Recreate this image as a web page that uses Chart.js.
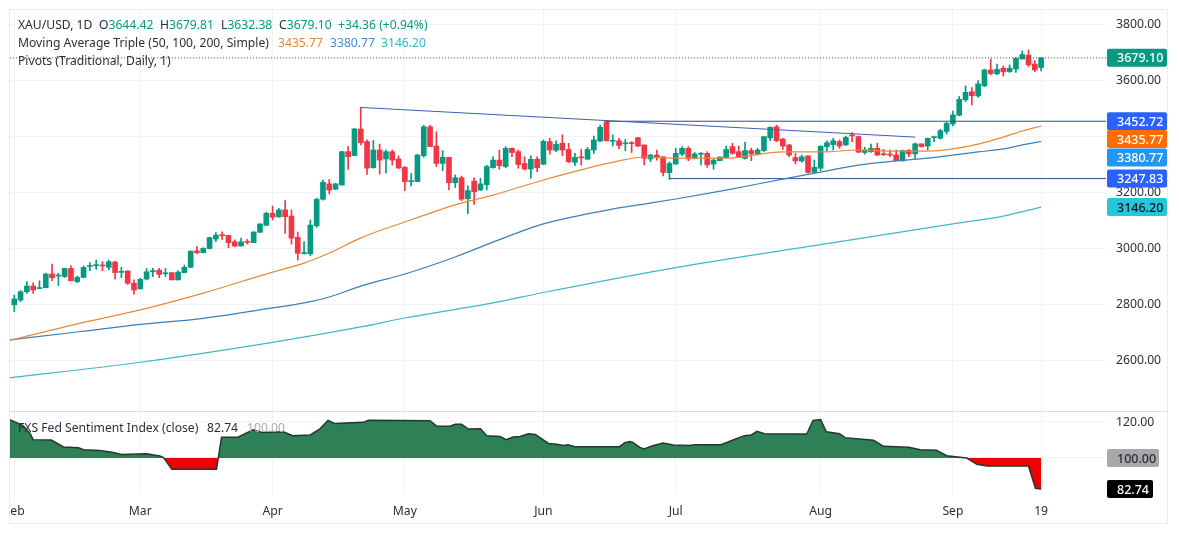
<!DOCTYPE html>
<html>
<head>
<meta charset="utf-8">
<title>XAU/USD</title>
<script src="https://cdn.jsdelivr.net/npm/chart.js@4"></script>
<style>
    html, body { margin: 0; padding: 0; background: #fff; overflow: hidden; }
    body { width: 1179px; height: 537px; position: relative; font-family: "Noto Sans", sans-serif; }
    canvas { position: absolute; display: block; }
    #frame { position: absolute; left: 9px; top: 9px; width: 1159px; height: 515px; border: 1px solid #ececec; box-sizing: border-box; }
    #sep { position: absolute; left: 10px; top: 411px; width: 1158px; height: 1px; background: #dcdcdc; }
    .leg { position: absolute; left: 18px; font-size: 12.15px; line-height: 16px; color: #2a2e39; white-space: nowrap; }
    .leg span { position: absolute; top: 0; }
    .up { color: #089981; }
</style>
</head>
<body>
<div id="frame"></div>
<canvas id="main" width="1158" height="401" style="left:10px;top:10px"></canvas>
<canvas id="sub" width="1158" height="113" style="left:10px;top:411px"></canvas>
<div id="sep"></div>

<div class="leg" style="top:17px">XAU/USD, 1D
    <span style="left:81px">O<b class="up" style="font-weight:400">3644.42</b></span>
    <span style="left:142px">H<b class="up" style="font-weight:400">3679.81</b></span>
    <span style="left:203px">L<b class="up" style="font-weight:400">3632.38</b></span>
    <span style="left:261px">C<b class="up" style="font-weight:400">3679.10</b></span>
    <span class="up" style="left:320px">+34.36 (+0.94%)</span>
</div>
<div class="leg" style="top:35px">Moving Average Triple (50, 100, 200, Simple)
    <span style="left:260px;color:#e08a3c">3435.77</span>
    <span style="left:312px;color:#3f8fd0">3380.77</span>
    <span style="left:363px;color:#35b6c9">3146.20</span>
</div>
<div class="leg" style="top:53px">Pivots (Traditional, Daily, 1)</div>
<div class="leg" style="top:420px">FXS Fed Sentiment Index (close)
    <span style="left:189px">82.74</span>
    <span style="left:229px;color:#aaa">100.00</span>
</div>

<script>
const opens = [
    2797,2814,2844,2864,2855,2858,2907,2900,2898,2927,
    2880,2895,2934,2937,2937,2931,2950,2913,2918,2874,
    2854,2889,2915,2921,2908,2912,2886,2912,2931,2990,
    2983,2998,3032,3046,3045,3022,3007,3024,3019,3056,
    3081,3124,3111,3136,3114,3038,2980,2979,3079,3174,
    3229,3210,3225,3344,3330,3425,3380,3287,3350,3318,
    3344,3318,3288,3237,3237,3330,3433,3364,3302,3324,
    3233,3251,3176,3239,3207,3226,3287,3314,3291,3356,
    3344,3302,3282,3317,3299,3380,3349,3374,3352,3306,
    3324,3317,3350,3382,3451,3381,3383,3372,3375,3394,
    3368,3318,3332,3326,3269,3300,3335,3356,3320,3335,
    3338,3300,3312,3323,3362,3344,3320,3348,3335,3348,
    3393,3433,3389,3368,3323,3311,3329,3270,3285,3362,
    3369,3380,3368,3404,3398,3341,3344,3356,3334,3334,
    3332,3311,3348,3336,3372,3364,3394,3392,3416,3443,
    3474,3529,3558,3543,3579,3636,3622,3642,3630,3639,
    3675,3689,3657,3644.42
];
const highs = [
    2832,2848,2880,2876,2883,2910,2943,2910,2928,2936,
    2900,2936,2948,2957,2951,2957,2952,2931,2919,2886,
    2892,2927,2927,2927,2927,2912,2919,2939,2989,3005,
    3001,3039,3055,3058,3045,3029,3035,3031,3058,3086,
    3128,3150,3142,3169,3136,3057,3023,3100,3178,3243,
    3245,3231,3345,3362,3428,3502,3386,3384,3371,3350,
    3350,3329,3291,3267,3335,3438,3438,3415,3348,3324,
    3261,3257,3222,3251,3249,3296,3326,3350,3362,3358,
    3350,3326,3329,3326,3386,3392,3383,3404,3374,3338,
    3352,3360,3400,3439,3455,3404,3392,3388,3380,3395,
    3368,3335,3350,3326,3308,3356,3362,3362,3341,3341,
    3344,3317,3326,3364,3374,3364,3377,3356,3356,3398,
    3433,3439,3392,3370,3338,3332,3329,3314,3364,3383,
    3392,3386,3400,3412,3400,3360,3371,3374,3352,3350,
    3350,3350,3352,3376,3372,3392,3400,3424,3451,3489,
    3541,3579,3573,3598,3639,3675,3657,3650,3654,3681,
    3704,3707,3669,3679.81
];
const lows = [
    2773,2808,2838,2838,2855,2858,2883,2866,2895,2882,
    2876,2894,2919,2924,2919,2922,2889,2894,2870,2835,
    2853,2886,2898,2894,2898,2886,2886,2912,2930,2979,
    2983,2996,3023,3031,3001,3005,3007,3014,3019,3056,
    3080,3100,3110,3052,3014,2957,2978,2972,3074,3171,
    3193,3208,3224,3281,3329,3368,3263,3285,3264,3267,
    3296,3283,3205,3222,3237,3324,3362,3291,3276,3207,
    3216,3169,3123,3156,3205,3207,3285,3281,3287,3326,
    3285,3279,3249,3273,3298,3335,3344,3329,3305,3294,
    3296,3317,3338,3380,3382,3364,3355,3348,3341,3362,
    3297,3308,3314,3257,3245,3299,3330,3312,3318,3297,
    3288,3281,3312,3323,3335,3323,3317,3312,3332,3345,
    3383,3380,3352,3326,3300,3306,3267,3270,3276,3348,
    3350,3356,3366,3380,3341,3335,3341,3330,3330,3326,
    3311,3311,3326,3320,3360,3350,3380,3389,3407,3436,
    3472,3523,3511,3538,3576,3618,3619,3614,3627,3627,
    3675,3648,3630,3632.38
];
const closes = [
    2818,2844,2864,2850,2858,2907,2894,2903,2927,2883,
    2895,2931,2935,2939,2936,2951,2912,2915,2874,2850,
    2888,2915,2919,2906,2910,2886,2914,2931,2989,2983,
    2999,3037,3046,3044,3019,3007,3022,3020,3057,3086,
    3124,3110,3136,3112,3035,2981,2983,3082,3174,3235,
    3207,3229,3344,3326,3425,3376,3285,3350,3314,3344,
    3314,3286,3237,3239,3332,3433,3362,3302,3324,3233,
    3251,3174,3205,3201,3229,3291,3314,3294,3356,3341,
    3298,3282,3317,3287,3381,3350,3370,3350,3308,3324,
    3322,3352,3386,3431,3383,3383,3366,3374,3373,3364,
    3320,3332,3323,3270,3302,3338,3356,3318,3336,3336,
    3297,3314,3325,3352,3338,3323,3348,3336,3350,3398,
    3431,3383,3364,3332,3311,3326,3270,3288,3364,3376,
    3383,3364,3395,3400,3342,3350,3356,3332,3333,3332,
    3312,3348,3336,3372,3362,3392,3396,3419,3445,3475,
    3531,3556,3544,3586,3636,3623,3638,3629,3642,3677,
    3691,3654,3636,3679.10
];

const maBars = [-1,10,20,30,41,46,50,55,62,70,76,84,96,100,105,113,122,128,134,140,145,149,153,157,160,163];
const ma50 = [2668,2729,2779,2839,2914,2946,2982,3036,3093,3154,3189,3243,3311,3325,3321,3321,3343,3343,3350,3346,3346,3354,3371,3396,3418,3435.77];
const ma100 = [2671,2700,2727,2749,2786,2804,2825,2864,2907,2968,3021,3086,3143,3157,3175,3207,3246,3271,3296,3311,3321,3332,3343,3354,3368,3380.77];
const ma200Bars = [-1,20,41,55,62,76,84,105,128,149,157,163];
const ma200 = [2536,2592,2663,2718,2750,2804,2841,2930,3012,3086,3114,3146.20];

const trendBars = [55, 143];
const trendPrices = [3502, 3396];
const pivotHigh = 3452.72;
const pivotHighBar = 94;
const pivotLow = 3247.83;
const pivotLowBar = 104;
const lastClose = 3679.10;

const sentBars = [
    -1,0,1.4,2.5,3,5.9,7.8,10.2,11,13.6,15.7,17,21,23.1,23.7,25,32.1,32.9,35.5,37.9,39.5,42.7,44.2,47,48.5,49.8,50.9,55.4,56.2,
    66,67,69.2,70,71,72.1,74,75,77.1,78.1,79.2,80.3,81.6,82.7,84.8,86.1,87.2,87.9,89,96.1,96.9,97.7,98.2,99.3,100,101.2,103,104.6,107.2,108,112.2,114.1,115.9,117,117.9,119.1,
    125.8,126.8,128,128.9,131,131.9,136.4,138,142,143.8,146.4,148,151.2,152.8,154.4,161,162.1,163
];
const sentValues = [
    121.7,120.2,118,113.7,110.2,110,106.1,105.7,104.6,104.1,103.1,102,102.4,101.1,100.2,93.7,93.7,111.5,111.5,115.6,114.1,114.6,112.4,112.8,116.1,120.9,119.1,119.8,120.9,
    120.7,117.8,117.6,118.7,118.7,116.1,116.3,112.4,111.9,110.2,111.7,112,113.5,113.1,108.1,107.6,106.9,107.4,106.3,106.3,108.5,109.1,108.7,105.9,105,106.7,108.3,107.2,106.9,107.4,107.4,110,112.4,112.8,114.8,113.5,
    113.3,120.9,121.3,114.6,113.5,111.3,109.8,106.5,105.9,104.6,104.3,101.3,100,96.5,95.6,95.6,83.1,82.74
];

const monthBars = [0, 20, 41, 62, 84, 105, 128, 149, 163];
const monthLabels = ['Feb', 'Mar', 'Apr', 'May', 'Jun', 'Jul', 'Aug', 'Sep', '19'];
const priceTicks = [2600, 2800, 3000, 3200, 3400, 3600, 3800];
const sentTicks = [100, 120];

const xMin = -0.68, xMax = 173.3;
const upCol = '#089981', downCol = '#f23645';
const fontFam = '"Noto Sans", sans-serif';

const pairs = (xs, ys) => xs.map((x, i) => ({ x: x, y: ys[i] }));
const candleCols = opens.map((o, i) => closes[i] >= o ? upCol : downCol);

function lineSet(points, color, width, extra) {
    return Object.assign({
        type: 'line', data: points, borderColor: color, borderWidth: width,
        pointRadius: 0, tension: 0, fill: false, order: 0
    }, extra || {});
}

// price tags on the right axis, painted over the tick labels
const tagPlugin = {
    id: 'tagPlugin',
    afterDraw(chart, args, opts) {
        const ctx = chart.ctx, y = chart.scales.y;
        ctx.save();
        ctx.font = '500 12.5px ' + fontFam;
        ctx.textBaseline = 'middle';
        ctx.textAlign = 'left';
        opts.tags.forEach(t => {
            const cy = y.getPixelForValue(t.value) + (t.nudge || 0);
            const left = chart.chartArea.right + 1;
            ctx.fillStyle = t.bg;
            ctx.beginPath();
            ctx.roundRect(left, cy - 9, t.w, 18, 2);
            ctx.fill();
            ctx.fillStyle = t.fg;
            ctx.fillText(t.value.toFixed(2), left + 10, cy + 1);
        });
        ctx.restore();
    }
};

const xGrid = { color: '#f1f3f7', drawTicks: false, offset: false };
const monthTicks = axis => { axis.ticks = monthBars.map(v => ({ value: v })); };
const noPad = s => { s.paddingLeft = 0; s.paddingRight = 0; s.paddingTop = 0; s.paddingBottom = 0; };
const smooth = { cubicInterpolationMode: 'monotone' };

new Chart(document.getElementById('main'), {
    type: 'bar',
    data: {
        datasets: [
            { data: opens.map((o, i) => ({ x: i, y: [lows[i], highs[i]] })), backgroundColor: candleCols, barThickness: 1, grouped: false, order: 2, minBarLength: 1 },
            { data: opens.map((o, i) => ({ x: i, y: [o, closes[i]] })), backgroundColor: candleCols, barThickness: 5, grouped: false, order: 1, minBarLength: 1 },
            lineSet(pairs(maBars, ma50), '#e8883a', 1.2, smooth),
            lineSet(pairs(maBars, ma100), '#3a80b8', 1.2, smooth),
            lineSet(pairs(ma200Bars, ma200), '#3fb8c6', 1.2, smooth),
            lineSet(pairs(trendBars, trendPrices), '#3d5fb0', 1),
            lineSet(pairs([pivotHighBar, xMax], [pivotHigh, pivotHigh]), '#2c4f8c', 1),
            lineSet(pairs([pivotLowBar, xMax], [pivotLow, pivotLow]), '#2c4f8c', 1),
            lineSet(pairs([xMin, xMax], [lastClose, lastClose]), '#555', 1, { borderDash: [1, 2] })
        ]
    },
    options: {
        responsive: false,
        animation: false,
        events: [],
        layout: { padding: 0 },
        plugins: {
            legend: { display: false },
            tooltip: { enabled: false },
            tagPlugin: { tags: [
                { value: 3679.10, bg: upCol, fg: '#fff', w: 60 },
                { value: 3452.72, bg: '#2962ff', fg: '#fff', w: 60 },
                { value: 3435.77, bg: '#ff6d00', fg: '#fff', w: 60, nudge: 13 },
                { value: 3380.77, bg: '#2196f3', fg: '#fff', w: 60, nudge: 16 },
                { value: 3247.83, bg: '#2962ff', fg: '#fff', w: 60 },
                { value: 3146.20, bg: '#26c6da', fg: '#131722', w: 60 }
            ] }
        },
        scales: {
            x: {
                type: 'linear', min: xMin, max: xMax, offset: false,
                grid: xGrid, border: { display: false },
                ticks: { display: false },
                afterBuildTicks: monthTicks,
                afterFit: s => { noPad(s); s.height = 0; }
            },
            y: {
                position: 'right', min: 2417.86, max: 3850,
                grid: { color: '#f1f3f7', drawTicks: false }, border: { display: false },
                ticks: { padding: 10, labelOffset: 1, crossAlign: 'near', color: '#2a2e39', font: { family: fontFam, size: 12.2 }, callback: v => v.toFixed(2) },
                afterBuildTicks: axis => { axis.ticks = priceTicks.map(v => ({ value: v })); },
                afterFit: s => { noPad(s); s.width = 62; }
            }
        }
    },
    plugins: [tagPlugin]
});

new Chart(document.getElementById('sub'), {
    type: 'line',
    data: {
        datasets: [
            lineSet(pairs(sentBars, sentValues), '#24382e', 1.5, {
                fill: { target: { value: 100 }, above: '#2e8156', below: '#f00000' }
            }),
            lineSet(pairs([xMin, sentBars[sentBars.length - 1]], [100, 100]), '#d8d8d8', 1, { borderDash: [2, 2] })
        ]
    },
    options: {
        responsive: false,
        animation: false,
        events: [],
        layout: { padding: 0 },
        plugins: {
            legend: { display: false },
            tooltip: { enabled: false },
            tagPlugin: { tags: [
                { value: 100, bg: '#a8a8a8', fg: '#2a2e39', w: 52 },
                { value: 82.74, bg: '#000', fg: '#fff', w: 46 }
            ] }
        },
        scales: {
            x: {
                type: 'linear', min: xMin, max: xMax,
                grid: xGrid, border: { display: false },
                ticks: {
                    autoSkip: false, maxRotation: 0, padding: 10, color: '#2a2e39',
                    font: { family: fontFam, size: 12.2 },
                    callback: v => monthLabels[monthBars.indexOf(v)]
                },
                afterBuildTicks: monthTicks,
                afterFit: s => { noPad(s); s.height = 30; }
            },
            y: {
                position: 'right', min: 80, max: 126.1,
                grid: { color: '#f1f3f7', drawTicks: false }, border: { display: false },
                ticks: { padding: 10, labelOffset: 1, crossAlign: 'near', color: '#2a2e39', font: { family: fontFam, size: 12.2 }, callback: v => v.toFixed(2) },
                afterBuildTicks: axis => { axis.ticks = sentTicks.map(v => ({ value: v })); },
                afterFit: s => { noPad(s); s.width = 62; }
            }
        }
    },
    plugins: [tagPlugin]
});
</script>
</body>
</html>
